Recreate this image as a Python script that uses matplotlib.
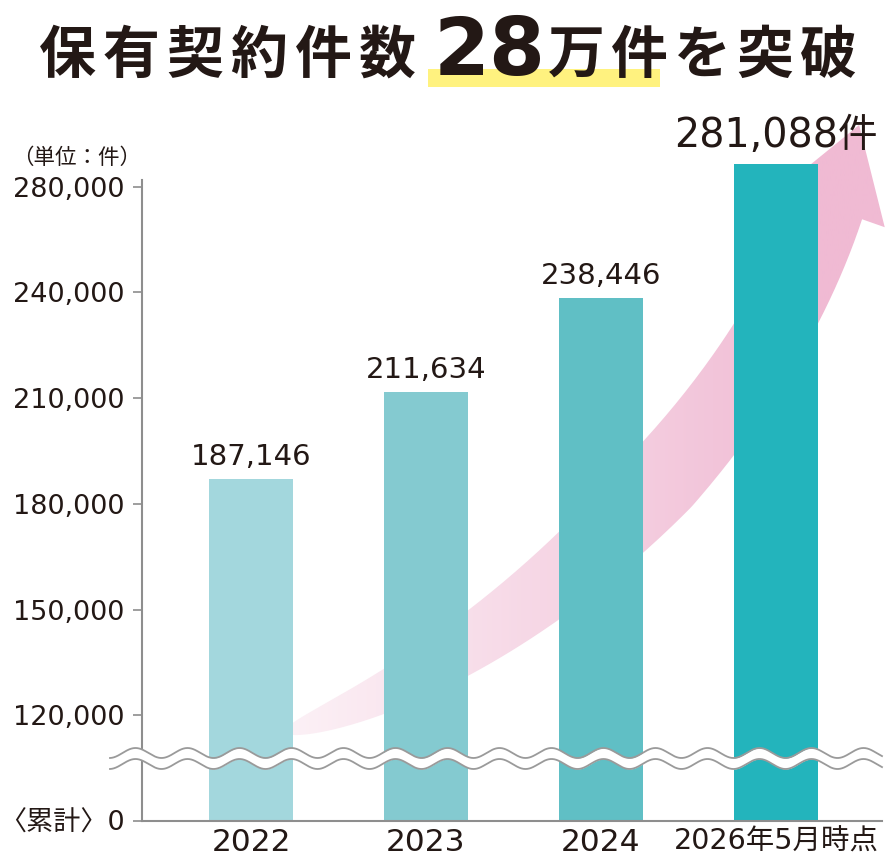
import matplotlib.pyplot as plt
import numpy as np
from matplotlib.patches import PathPatch, Rectangle
from matplotlib.path import Path

plt.rcParams["font.family"] = ["DejaVu Sans", "Noto Sans CJK JP"]

years = ["2022", "2023", "2024", "2026年5月時点"]
contracts = [187146, 211634, 238446, 281088]
value_labels = ["187,146", "211,634", "238,446", "281,088件"]
bar_colors = ["#a3d7dd", "#84cad0", "#60bfc5", "#23b4bc"]
ytick_values = [0, 120000, 150000, 180000, 210000, 240000, 280000]
ytick_labels = ["〈累計〉0", "120,000", "150,000", "180,000", "210,000", "240,000", "280,000"]
title_left = "保有契約件数"
title_num = "28"
title_right = "万件を突破"
unit_label = "（単位：件）"

# broken axis: every gridline gets the same height on the page
knot_vals = [0, 120000, 240000, 280000, 290000]
knot_pos = [0, 1, 5, 6, 8]

TEXT = "#231815"
GREY = "#8e8e8e"
W, H = 890, 868


def fwd(v):
    return np.interp(v, knot_vals, knot_pos)


def inv(p):
    return np.interp(p, knot_pos, knot_vals)


fig = plt.figure(figsize=(W / 100, H / 100), dpi=100)

# background layer in pixel coords (title, highlight, arrow)
bg = fig.add_axes([0, 0, 1, 1], zorder=0)
bg.axis("off")

# curved arrow behind the bars
p0 = np.array([285.0, 732.0])
p3 = np.array([830.0, 208.0])
u_end = np.array([0.33, -0.94])
u_end = u_end / np.linalg.norm(u_end)
p1 = p0 + 220 * np.array([0.96, -0.29])
p2 = p3 - 260 * u_end
t = np.linspace(0, 1, 200)[:, None]
curve = (1 - t) ** 3 * p0 + 3 * (1 - t) ** 2 * t * p1 + 3 * (1 - t) * t ** 2 * p2 + t ** 3 * p3
deriv = 3 * (1 - t) ** 2 * (p1 - p0) + 6 * (1 - t) * t * (p2 - p1) + 3 * t ** 2 * (p3 - p2)
tang = deriv / np.linalg.norm(deriv, axis=1, keepdims=True)
nrm = np.column_stack([-tang[:, 1], tang[:, 0]])
tt = t[:, 0]
half = np.where(tt < 0.6, 40 * np.sqrt(tt / 0.6), 40 - 6 * (tt - 0.6) / 0.4)
upper = curve - half[:, None] * nrm
lower = curve + half[:, None] * nrm
u, n = tang[-1], nrm[-1]
head = np.array([p3 - 54 * n, p3 + 88 * u, p3 + 58 * n])
verts = np.vstack([upper, head, lower[::-1]])
arrow = PathPatch(Path(verts), facecolor="none", edgecolor="none")
bg.add_patch(arrow)

xs = np.linspace(280, 890, 300)
alpha = np.clip(0.22 + (xs - 300) * 0.0015, 0.1, 1.0)
pink = np.array([240, 186, 211]) / 255
grad = 1 - alpha[:, None] * (1 - pink)
im = bg.imshow(grad[None, :, :], extent=[280, 890, 740, 100], aspect="auto",
               interpolation="bilinear")
im.set_clip_path(arrow)

# title
bg.add_patch(Rectangle((428, 69), 232, 18, facecolor="#fff27f", edgecolor="none"))
for i, ch in enumerate(title_left):
    bg.text(67 + 64 * i, 73, ch, ha="center", va="baseline", fontsize=41,
            fontweight="bold", family="Noto Sans CJK JP", color=TEXT)
bg.text(490, 75, title_num, ha="center", va="baseline", fontsize=58,
        fontweight="bold", family="DejaVu Sans", color=TEXT)
for i, ch in enumerate(title_right):
    bg.text(576 + 63 * i, 73, ch, ha="center", va="baseline", fontsize=41,
            fontweight="bold", family="Noto Sans CJK JP", color=TEXT)
bg.text(77, 158, unit_label, ha="center", va="center", fontsize=15.5,
        family="Noto Sans CJK JP", color=TEXT)
bg.set_xlim(0, W)
bg.set_ylim(H, 0)

# main chart
ax = fig.add_axes([142 / W, (H - 821) / H, (882 - 142) / W, (821 - 102) / H], zorder=1)
ax.set_facecolor("none")
ax.set_yscale("function", functions=(fwd, inv))
ax.set_ylim(0, 284000)
ax.set_xlim(-0.623, 3.606)

x = np.arange(len(years))
ax.bar(x, contracts, width=0.48, color=bar_colors, zorder=2)

for i, (v, lbl) in enumerate(zip(contracts, value_labels)):
    last = i == len(contracts) - 1
    ax.annotate(lbl, (i, v), xytext=(0, 12 if last else 10), textcoords="offset points",
                ha="center", va="baseline", fontsize=28.5 if last else 21,
                color=TEXT, annotation_clip=False)

ax.set_yticks(ytick_values)
ax.set_yticklabels(ytick_labels)
ax.set_xticks(x)
ax.set_xticklabels(years)
ax.tick_params(axis="y", length=6.5, width=1.2, color=GREY, pad=6,
               labelsize=19.5, labelcolor=TEXT)
ax.tick_params(axis="x", length=0, pad=5, labelsize=22.5, labelcolor=TEXT)
ax.get_xticklabels()[-1].set_fontsize(20.5)
ax.minorticks_off()

for side in ("top", "right"):
    ax.spines[side].set_visible(False)
for side in ("left", "bottom"):
    ax.spines[side].set_color(GREY)
    ax.spines[side].set_linewidth(1.5)
ax.spines["left"].set_bounds(0, 280300)

# wavy break band on top
top = fig.add_axes([0, 0, 1, 1], zorder=3)
top.axis("off")
wx = np.linspace(110, 882, 1200)
wy = 753 - 5 * np.cos(2 * np.pi * (wx - 135.5) / 52)
top.fill_between(wx, wy, wy + 11, color="white", lw=0)
top.plot(wx, wy, color="#9a9a9a", lw=1.3)
top.plot(wx, wy + 11, color="#9a9a9a", lw=1.3)
top.set_xlim(0, W)
top.set_ylim(H, 0)

fig.savefig("out.png", dpi=100, facecolor="white")
